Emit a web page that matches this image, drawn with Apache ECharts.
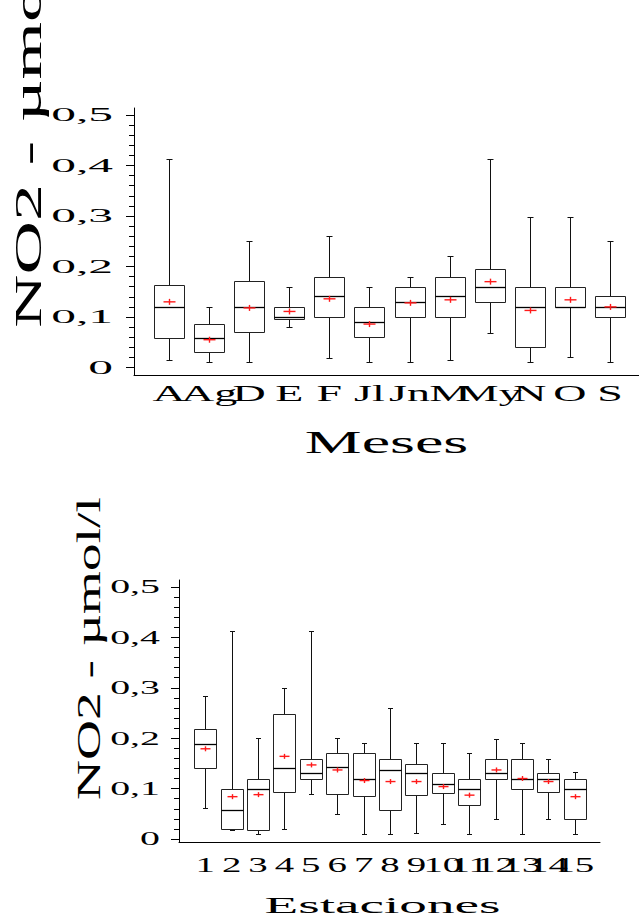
<!DOCTYPE html>
<html><head><meta charset="utf-8">
<script src="https://cdn.jsdelivr.net/npm/echarts@6/dist/echarts.min.js"></script>
<style>html,body{margin:0;padding:0;background:#fff;}#c{width:639px;height:918px;}</style>
</head><body><div id="c"></div>
<script>
// ---------- data: months (top chart) ----------
const months    = ['A','Ag','D','E','F','Jl','Jn','M','My','N','O','S'];
const monthMin  = [0.014,0.010,0.010,0.080,0.018,0.010,0.010,0.015,0.068,0.010,0.021,0.010];
const monthQ1   = [0.059,0.030,0.071,0.096,0.100,0.060,0.100,0.100,0.130,0.041,0.120,0.100];
const monthMed  = [0.120,0.059,0.120,0.100,0.141,0.090,0.130,0.141,0.159,0.120,0.120,0.120];
const monthQ3   = [0.163,0.087,0.171,0.120,0.179,0.120,0.159,0.179,0.195,0.159,0.159,0.141];
const monthMax  = [0.412,0.120,0.250,0.159,0.260,0.159,0.179,0.220,0.412,0.298,0.298,0.250];
const monthMean = [0.130,0.055,0.118,0.111,0.136,0.086,0.128,0.134,0.170,0.113,0.134,0.120];

// ---------- data: stations (bottom chart) ----------
const stations    = ['1','2','3','4','5','6','7','8','9','10','11','12','13','14','15'];
const stationMin  = [0.062,0.017,0.010,0.020,0.090,0.050,0.009,0.009,0.012,0.029,0.009,0.040,0.009,0.040,0.009];
const stationQ1   = [0.140,0.020,0.017,0.093,0.119,0.090,0.086,0.058,0.087,0.091,0.067,0.119,0.099,0.094,0.040];
const stationMed  = [0.189,0.058,0.099,0.140,0.130,0.143,0.119,0.137,0.130,0.110,0.099,0.130,0.119,0.119,0.099];
const stationQ3   = [0.219,0.099,0.119,0.249,0.159,0.170,0.170,0.159,0.149,0.130,0.119,0.159,0.159,0.130,0.119];
const stationMax  = [0.283,0.413,0.200,0.299,0.413,0.200,0.190,0.260,0.190,0.190,0.170,0.199,0.190,0.159,0.133];
const stationMean = [0.179,0.084,0.088,0.164,0.147,0.137,0.116,0.114,0.114,0.104,0.087,0.137,0.120,0.114,0.084];

// ---------- tick labels / titles ----------
const yTickLabels = ['0','0,1','0,2','0,3','0,4','0,5'];
const yTitle = 'NO2 - µmol/l';
const xTitleTop = 'Meses';
const xTitleBottom = 'Estaciones';

function rows(mn,q1,md,q3,mx,mean){ return mn.map((v,i)=>[i,v,q1[i],md[i],q3[i],mx[i],mean[i]]); }

function makeRender(boxRatio, capHalf, plusW, plusH){
  return function(params, api){
    const i = api.value(0);
    const band = api.size([1,0])[0];
    const cx = Math.round(api.coord([i,0])[0]) + 0.5;
    const Y = v => Math.round(api.coord([i,v])[1]) + 0.5;
    const w = Math.round(band*boxRatio/2)*2;
    const yMin=Y(api.value(1)), yQ1=Y(api.value(2)), yMed=Y(api.value(3)), yQ3=Y(api.value(4)), yMax=Y(api.value(5));
    const yMean = api.coord([i, api.value(6)])[1];
    const L = (x1,y1,x2,y2,style)=>({type:'line', shape:{x1,y1,x2,y2}, style});
    const k = {stroke:'#111', lineWidth:1};
    const r = {stroke:'#ff1a1a', lineWidth:1.4};
    const x0 = cx - w/2;
    return {type:'group', children:[
      L(cx,yQ3,cx,yMax,k), L(cx,yQ1,cx,yMin,k),
      L(cx-capHalf,yMax,cx+capHalf,yMax,k), L(cx-capHalf,yMin,cx+capHalf,yMin,k),
      {type:'rect', shape:{x:x0,y:yQ3,width:w,height:yQ1-yQ3}, style:{fill:'#fff', stroke:'#222', lineWidth:1}},
      L(x0,yMed,x0+w,yMed,{stroke:'#000', lineWidth:1.3}),
      L(cx-plusW,yMean,cx+plusW,yMean,r), L(cx,yMean-plusH,cx,yMean+plusH,r)
    ]};
  };
}

const black = '#000';
function frameX(grid, name, gap, font, fam, pad){
  return {gridIndex:grid, type:'value', min:0, max:1,
    axisLine:{show:true, lineStyle:{color:black, width:1}}, axisTick:{show:false}, axisLabel:{show:false}, splitLine:{show:false},
    name:name, nameLocation:'middle', nameGap:gap,
    nameTextStyle:{fontSize:font, fontFamily:fam, color:black, padding:pad}};
}
function frameY(grid){
  return {gridIndex:grid, type:'value', min:0, max:1,
    axisLine:{show:true, lineStyle:{color:black, width:1}}, axisTick:{show:false}, axisLabel:{show:false}, splitLine:{show:false}};
}
function catX(grid, data, margin, font, fam){
  return {gridIndex:grid, type:'category', data:data, boundaryGap:true,
    axisLine:{show:false}, axisTick:{show:false}, splitLine:{show:false},
    axisLabel:{interval:0, hideOverlap:false, margin:margin, fontSize:font, fontFamily:fam, color:black}};
}
function valY(grid, offset, margin, font, fam){
  return {gridIndex:grid, type:'value', min:0, max:0.5, interval:0.1, offset:offset,
    axisLine:{show:false}, splitLine:{show:false}, minorSplitLine:{show:false},
    axisTick:{show:true, length:8, lineStyle:{color:black, width:1}},
    minorTick:{show:true, splitNumber:5, length:5, lineStyle:{color:black, width:1}},
    axisLabel:{margin:margin, fontSize:font, fontFamily:fam, color:black, padding:[6,0,0,0],
      formatter: v => yTickLabels[Math.round(v*10)]}};
}

const dom = document.getElementById('c');
const chart = echarts.init(dom, null, {renderer:'svg'});
chart.setOption({
  animation:false,
  backgroundColor:'#fff',
  grid:[
    {left:134, top:108, width:505, height:267},
    {left:149, top:115, width:481, height:252.5},
    {left:179, top:580, width:421, height:267},
    {left:192, top:587, width:396, height:252}
  ],
  xAxis:[
    frameX(0, xTitleTop, 51, 32, "'Liberation Serif', sx200", [0,0,0,0]),
    catX(1, months, 14, 23, "'Liberation Serif', sx200"),
    frameX(2, xTitleBottom, 51, 24, "'Liberation Serif', sx230", [0,14,0,0]),
    catX(3, stations, 15, 21, "'Liberation Serif', sx185")
  ],
  yAxis:[
    frameY(0),
    valY(1, 15, 21, 18, "'Liberation Serif', sx275"),
    frameY(2),
    valY(3, 13, 19, 19, "'Liberation Serif', sx210")
  ],
  graphic:[
    {type:'text', x:28, y:328, rotation:Math.PI/2,
      style:{text:yTitle, fontSize:38, fontFamily:"'Liberation Serif', sx195", fill:black, textAlign:'left', textVerticalAlign:'middle'}},
    {type:'text', x:89, y:800, rotation:Math.PI/2,
      style:{text:yTitle, fontSize:33, fontFamily:"'Liberation Serif', sx168", fill:black, textAlign:'left', textVerticalAlign:'middle'}}
  ],
  series:[
    {type:'custom', xAxisIndex:1, yAxisIndex:1, renderItem:makeRender(0.75,3,6,3),
      encode:{x:0, y:[1,2,3,4,5,6]}, data:rows(monthMin,monthQ1,monthMed,monthQ3,monthMax,monthMean)},
    {type:'custom', xAxisIndex:3, yAxisIndex:3, renderItem:makeRender(0.8,2.5,5,2.5),
      encode:{x:0, y:[1,2,3,4,5,6]}, data:rows(stationMin,stationQ1,stationMed,stationQ3,stationMax,stationMean)}
  ]
});

// horizontally stretch text (the reference draws its type very wide)
function stretchTexts(){
  const svg = dom.querySelector('svg'); if(!svg) return;
  svg.querySelectorAll('text').forEach(t=>{
    const attrs = Array.from(t.attributes).filter(a=>a.name!=='data-done' && a.name!=='transform').map(a=>a.value).join(' ');
    const m = attrs.match(/sx(\d+)/);
    if(!m) return;
    const s = (+m[1])/100;
    const cur = t.getAttribute('transform') || '';
    if(t.dataset.done && t.dataset.done === cur) return;
    const x = parseFloat(t.getAttribute('x')) || 0;
    const y = parseFloat(t.getAttribute('y')) || 0;
    const nt = (cur + ' translate(' + x + ' ' + y + ') scale(' + s + ' 1) translate(' + (-x) + ' ' + (-y) + ')').trim();
    t.setAttribute('transform', nt);
    t.dataset.done = nt;
  });
}
chart.on('finished', stretchTexts);
stretchTexts();
requestAnimationFrame(()=>{stretchTexts(); requestAnimationFrame(stretchTexts);});
setTimeout(stretchTexts, 50);
setTimeout(stretchTexts, 300);
</script>
</body></html>
